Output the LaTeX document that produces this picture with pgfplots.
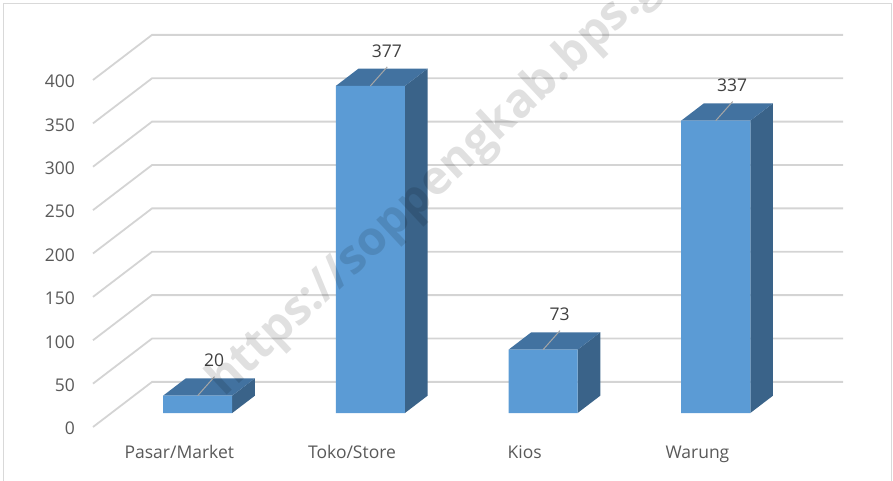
\documentclass[border=0pt]{standalone}
\usepackage{fontspec}
\setmainfont{Open Sans}
\usepackage{pgfplots}
\usepackage{pgfplotstable}
\pgfplotsset{compat=1.18}

\definecolor{frontc}{RGB}{91,155,213}
\definecolor{topc}{RGB}{66,114,160}
\definecolor{sidec}{RGB}{58,99,137}
\definecolor{gridc}{RGB}{212,212,212}
\definecolor{labc}{RGB}{89,89,89}
\definecolor{valc}{RGB}{64,64,64}
\definecolor{leadc}{RGB}{166,166,166}
\definecolor{framec}{RGB}{217,217,217}

% outlets by type
\pgfplotstableread{
i v
0 20
1 377
2 73
3 337
}\outlets

\begin{document}
\begin{tikzpicture}
\useasboundingbox (-93pt,-53pt) rectangle (800pt,427pt);
\draw[framec, line width=1pt] (-89pt,-70pt) rectangle (798pt,423pt);
\begin{axis}[scale only axis, width=750pt, height=393pt,
  at={(0pt,0pt)}, anchor=south west,
  xmin=-0.5, xmax=3.843, ymin=-16.1, ymax=436.9,
  clip=false,
  axis x line=bottom, axis y line=left,
  axis line style={draw=none,-},
  major tick length=0pt,
  /pgf/number format/assume math mode=true,
  xtick={0,1,2,3},
  xticklabels={Pasar/Market,Toko/Store,Kios,Warung},
  ytick={-16.1,33.9,83.9,133.9,183.9,233.9,283.9,333.9,383.9},
  yticklabels={0,50,100,150,200,250,300,350,400},
  xticklabel style={anchor=base, inner sep=0pt, yshift=-31pt,
    font=\fontsize{17.5}{21}\selectfont, text=labc},
  yticklabel style={anchor=east, inner sep=0pt, xshift=-18pt, yshift=-1.5pt,
    font=\fontsize{17.5}{21}\selectfont, text=labc},
]
% 3-D grid: front diagonal, then back wall line
\addplot[gridc, line width=1.8pt] coordinates {(-0.5,-16.1) (-0.158,35.9) (3.843,35.9)};
\addplot[gridc, line width=1.8pt] coordinates {(-0.5,33.9) (-0.158,85.9) (3.843,85.9)};
\addplot[gridc, line width=1.8pt] coordinates {(-0.5,83.9) (-0.158,135.9) (3.843,135.9)};
\addplot[gridc, line width=1.8pt] coordinates {(-0.5,133.9) (-0.158,185.9) (3.843,185.9)};
\addplot[gridc, line width=1.8pt] coordinates {(-0.5,183.9) (-0.158,235.9) (3.843,235.9)};
\addplot[gridc, line width=1.8pt] coordinates {(-0.5,233.9) (-0.158,285.9) (3.843,285.9)};
\addplot[gridc, line width=1.8pt] coordinates {(-0.5,283.9) (-0.158,335.9) (3.843,335.9)};
\addplot[gridc, line width=1.8pt] coordinates {(-0.5,333.9) (-0.158,385.9) (3.843,385.9)};
\addplot[gridc, line width=1.8pt] coordinates {(-0.5,383.9) (-0.158,435.9) (3.843,435.9)};

% side faces
\addplot[fill=sidec, draw=none] coordinates {(0.306,0) (0.306,20) (0.4375,40) (0.4375,20)};
\addplot[fill=sidec, draw=none] coordinates {(1.306,0) (1.306,377) (1.4375,397) (1.4375,20)};
\addplot[fill=sidec, draw=none] coordinates {(2.306,0) (2.306,73) (2.4375,93) (2.4375,20)};
\addplot[fill=sidec, draw=none] coordinates {(3.306,0) (3.306,337) (3.4375,357) (3.4375,20)};
% top faces
\addplot[fill=topc, draw=none] coordinates {(-0.094,20) (0.306,20) (0.4375,40) (0.0375,40)};
\addplot[fill=topc, draw=none] coordinates {(0.906,377) (1.306,377) (1.4375,397) (1.0375,397)};
\addplot[fill=topc, draw=none] coordinates {(1.906,73) (2.306,73) (2.4375,93) (2.0375,93)};
\addplot[fill=topc, draw=none] coordinates {(2.906,337) (3.306,337) (3.4375,357) (3.0375,357)};
% front faces with value labels
\addplot[ybar, bar width=0.4, bar shift=0pt, fill=frontc, draw=none,
  nodes near coords,
  every node near coord/.append style={anchor=center, xshift=16.5pt, yshift=35pt,
    font=\fontsize{17.5}{21}\selectfont, text=valc}]
  table[x expr=\thisrow{i}+0.106, y=v] {\outlets};
% leader lines
\addplot[leadc, line width=1pt, quiver={u=0.098, v=22}]
  table[x expr=\thisrow{i}+0.106, y=v] {\outlets};
\end{axis}
% watermark
\node[overlay, rotate=43, anchor=base west, inner sep=0pt, opacity=0.12,
  font=\bfseries\fontsize{47}{51}\selectfont] at (131pt,29pt) {https://soppengkab.bps.go.id};
\end{tikzpicture}
\end{document}
